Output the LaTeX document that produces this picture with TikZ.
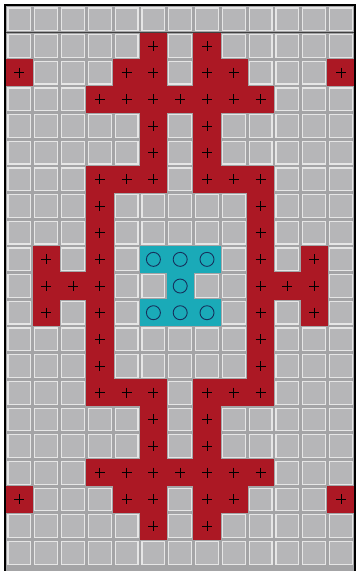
\documentclass[tikz,border=0pt]{standalone}
\usepackage{xcolor}
\usepackage{tikz}
\definecolor{gapc}{RGB}{164,164,166}
\definecolor{cellc}{RGB}{182,182,184}
\definecolor{rimc}{RGB}{230,230,230}
\definecolor{redc}{RGB}{172,24,36}
\definecolor{cyanc}{RGB}{26,170,184}
\definecolor{ringc}{RGB}{22,48,92}
\tikzset{
  greycell/.style  = {fill=cellc, draw=rimc, line width=1.1pt},
  redcell/.style   = {fill=redc},
  cyancell/.style  = {fill=cyanc},
  plusmark/.style  = {draw=black, line width=0.7pt},
  ringmark/.style  = {draw=ringc, line width=0.9pt},
  frameline/.style = {draw=black, line width=2pt},
  rowline/.style   = {draw=black!75, line width=1pt},
}
\def\pw{26.8}
\def\ph{26.67}

\begin{document}
\begin{tikzpicture}[x=1pt, y=-1pt]

\useasboundingbox (0,0) rectangle (356,571);
\fill[gapc] (6,6) rectangle (356,571);

% grey board
\foreach \c in {1,...,13}
  \foreach \r in {0,...,20}
    \draw[greycell] ({6+\pw*(\c-1)+2},{6+\ph*\r+2}) rectangle +(\pw-4,\ph-4);

% red pattern
\foreach \c/\r in {6/1,8/1,
    1/2,5/2,6/2,8/2,9/2,13/2,
    4/3,5/3,6/3,7/3,8/3,9/3,10/3,
    6/4,8/4, 6/5,8/5,
    4/6,5/6,6/6,8/6,9/6,10/6,
    4/7,10/7, 4/8,10/8,
    2/9,4/9,10/9,12/9,
    2/10,3/10,4/10,10/10,11/10,12/10,
    2/11,4/11,10/11,12/11,
    4/12,10/12, 4/13,10/13,
    4/14,5/14,6/14,8/14,9/14,10/14,
    6/15,8/15, 6/16,8/16,
    4/17,5/17,6/17,7/17,8/17,9/17,10/17,
    1/18,5/18,6/18,8/18,9/18,13/18,
    6/19,8/19}
{
  \fill[redcell] ({6+\pw*(\c-1)-0.3},{6+\ph*\r-0.3}) rectangle +(\pw+0.6,\ph+0.6);
  \draw[plusmark] ({6+\pw*(\c-0.5)},{6+\ph*(\r+0.5)}) +(-5,0) -- +(5,0) +(0,-5) -- +(0,5);
}

% cyan centre
\foreach \c/\r in {6/9,7/9,8/9,7/10,6/11,7/11,8/11}
{
  \fill[cyancell] ({6+\pw*(\c-1)-0.3},{6+\ph*\r-0.3}) rectangle +(\pw+0.6,\ph+0.6);
  \draw[ringmark] ({6+\pw*(\c-0.5)},{6+\ph*(\r+0.5)}) circle[radius=7];
}

% frame
\draw[rowline] (6,32) -- (356,32);
\draw[frameline] (5,571) -- (5,5) -- (355,5) -- (355,571);

\end{tikzpicture}
\end{document}
